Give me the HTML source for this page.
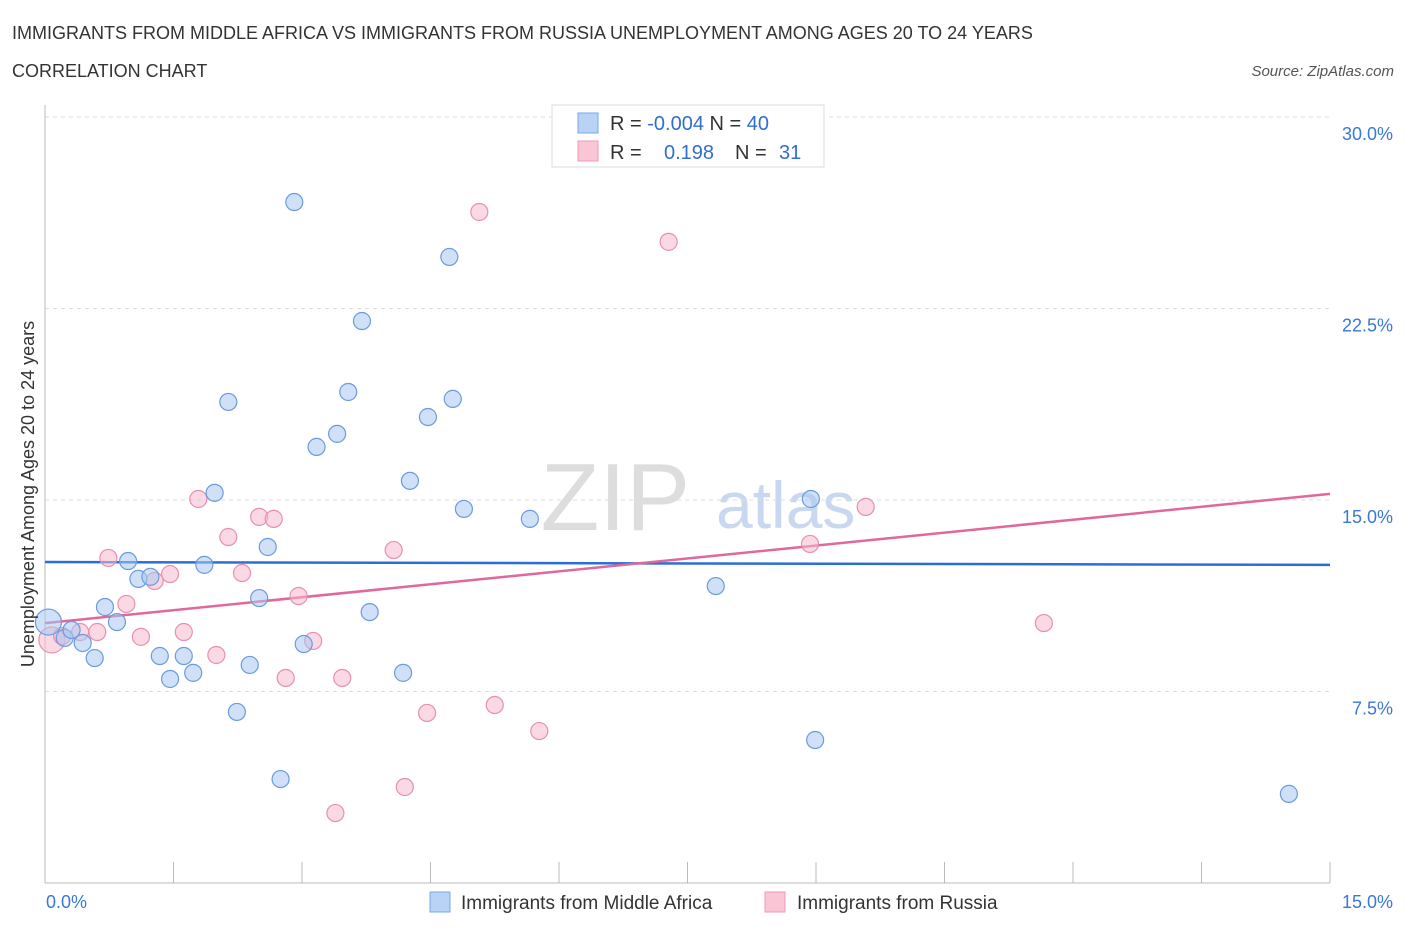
<!DOCTYPE html>
<html><head><meta charset="utf-8"><style>
body{margin:0;background:#fff;font-family:"Liberation Sans",sans-serif;}
svg text{font-family:"Liberation Sans",sans-serif;}
</style></head><body>
<svg id="c" width="1406" height="930" xmlns="http://www.w3.org/2000/svg">
<text x="12" y="39" font-size="18" fill="#333">IMMIGRANTS FROM MIDDLE AFRICA VS IMMIGRANTS FROM RUSSIA UNEMPLOYMENT AMONG AGES 20 TO 24 YEARS</text>
<text x="12" y="77" font-size="18" fill="#333">CORRELATION CHART</text>
<text x="1394" y="76" font-size="15" fill="#555" font-style="italic" text-anchor="end">Source: ZipAtlas.com</text>
<text x="690" y="530" font-size="96" fill="#ddd" text-anchor="end" font-family="Liberation Serif">ZIP</text>
<text x="716" y="528" font-size="66" fill="#c8d8f0">atlas</text>
<g id="grid"></g><g id="axes"></g><g id="lines"></g><g id="pts"></g>
<text transform="translate(34,494) rotate(-90)" font-size="18" fill="#333" text-anchor="middle">Unemployment Among Ages 20 to 24 years</text>
<g>
<rect x="552" y="105" width="272" height="62" fill="#fff" stroke="#ddd"/>
<rect x="578" y="113" width="20" height="20" fill="#b8d3f5" stroke="#7aa8e8"/>
<rect x="578" y="141" width="20" height="20" fill="#f9c6d6" stroke="#ee9ab8"/>
<text x="610" y="130" font-size="20" fill="#333">R = <tspan fill="#2f6fd0">-0.004</tspan>   N = <tspan fill="#2f6fd0">40</tspan></text>
<text x="610" y="159" font-size="20" fill="#333">R = <tspan fill="#2f6fd0" x="664">0.198</tspan><tspan x="735">N = </tspan><tspan fill="#2f6fd0" x="779">31</tspan></text>
</g>
<g>
<rect x="430" y="892" width="20" height="20" fill="#b8d3f5" stroke="#7aa8e8"/>
<text x="461" y="909" font-size="19" fill="#333">Immigrants from Middle Africa</text>
<rect x="765" y="892" width="20" height="20" fill="#f9c6d6" stroke="#ee9ab8"/>
<text x="797" y="909" font-size="19" fill="#333">Immigrants from Russia</text>
</g>
</svg>
<script>
const blueX=[.04,.23,.31,.44,.58,.70,.84,.97,1.09,1.23,1.34,1.46,1.62,1.73,1.86,1.98,2.14,2.24,2.39,2.50,2.60,2.75,2.91,3.02,3.17,3.41,3.54,3.70,3.79,4.18,4.26,4.47,4.72,4.76,4.89,5.66,7.83,8.94,8.99,14.52];
const blueY=[10.22,9.60,9.91,9.40,8.81,10.81,10.22,12.61,11.91,11.99,8.89,7.99,8.89,8.23,12.46,15.28,18.84,6.70,8.54,11.16,13.16,4.07,26.67,9.36,17.08,17.59,19.23,22.01,10.61,8.23,15.75,18.25,24.52,18.96,14.65,14.26,11.63,15.04,5.60,3.49];
const pinkX=[.08,.20,.41,.61,.74,.95,1.12,1.28,1.46,1.62,1.79,2.00,2.14,2.30,2.50,2.67,2.81,2.96,3.13,3.47,3.39,4.07,4.20,4.46,5.07,5.25,5.77,7.28,8.93,9.58,11.66];
const pinkY=[9.52,9.67,9.83,9.83,12.73,10.93,9.64,11.83,12.10,9.83,15.04,8.93,13.55,12.14,14.34,14.26,8.03,11.24,9.48,8.03,2.74,13.04,3.76,6.66,26.28,6.97,5.95,25.11,13.28,14.73,10.18];
const blueTrend=[12.57,12.46];
const pinkTrend=[10.18,15.24];
const yTicks=[7.5,15,22.5,30];
const xTicks=[0,1.5,3,4.5,6,7.5,9,10.5,12,13.5,15];
const NS="http://www.w3.org/2000/svg";
const sx=v=>45+v*(1285/15), sy=v=>883-v*(766/30);
function mk(p,t,a){const e=document.createElementNS(NS,t);for(const k in a)e.setAttribute(k,a[k]);document.getElementById(p).appendChild(e);return e;}
yTicks.forEach(v=>{
 const l=mk('grid','line',{x1:45,x2:1330,y1:sy(v),y2:sy(v),stroke:'#ddd','stroke-dasharray':'4,4'});
 
 
 const t=mk('axes','text',{x:1393,y:sy(v)+23,'font-size':18,fill:'#3a78d8','text-anchor':'end'});
 t.textContent=v.toFixed(1)+'%';
 
 
});
mk('axes','line',{x1:45,x2:45,y1:105,y2:883,stroke:'#bbb'});
mk('axes','line',{x1:45,x2:1330,y1:883,y2:883,stroke:'#bbb'});
xTicks.forEach(v=>{
 const l=mk('axes','line',{x1:sx(v),x2:sx(v),y1:862,y2:883,stroke:'#bbb'});
 
 
});
[[0,46,'start'],[15,1393,'end']].forEach(([v,x,a])=>{
 const t=mk('axes','text',{x:x,y:908,'font-size':18,fill:'#3a78d8','text-anchor':a});
 t.textContent=v.toFixed(1)+'%';
 
 
});
function pts(X,Y,fill,stroke,name){
 X.forEach((x,i)=>{
  const r=i===0?13:8.5;
  const c=mk('pts','circle',{cx:sx(x),cy:sy(Y[i]),r:r,fill:fill,'fill-opacity':0.55,stroke:stroke,'stroke-width':1.2});
  
  
 });
}
pts(pinkX,pinkY,'#f7b9cd','#e88fb0','russia-point');
pts(blueX,blueY,'#a9c8f0','#6a9be0','middle-africa-point');
const bl=mk('lines','line',{x1:sx(0),x2:sx(15),y1:sy(blueTrend[0]),y2:sy(blueTrend[1]),stroke:'#2b6fd6','stroke-width':2.5});


const pl=mk('lines','line',{x1:sx(0),x2:sx(15),y1:sy(pinkTrend[0]),y2:sy(pinkTrend[1]),stroke:'#e0689a','stroke-width':2.5});


</script>
</body></html>
